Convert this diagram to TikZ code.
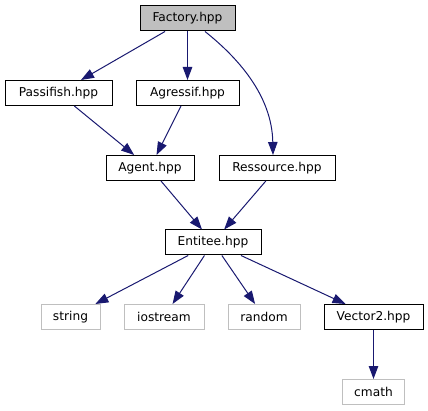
\documentclass[tikz,border=0pt]{standalone}
\usepackage{fontspec}
\setmainfont{DejaVu Sans}
\usetikzlibrary{arrows.meta,calc}
\definecolor{edgeblue}{HTML}{191970}
\definecolor{grey75}{HTML}{BFBFBF}
\begin{document}
\begin{tikzpicture}[x=1pt,y=-1pt,
  box/.style={draw=black,line width=1pt,fill=white,inner sep=0pt,minimum height=25pt,font=\fontsize{12.2}{14}\selectfont},
  extbox/.style={box,draw=grey75},
  rootbox/.style={box,fill=grey75},
  edge/.style={draw=edgeblue,line width=1pt,-{Triangle[length=13pt,width=9.5pt]}}
]
\useasboundingbox (0,0) rectangle (428,411);
\node[rootbox,minimum width=95pt] (factory) at (187.5,18.5) {Factory.hpp};
\node[box,minimum width=107pt] (passifish) at (58.5,93) {Passifish.hpp};
\node[box,minimum width=103pt] (agressif) at (187.5,93) {Agressif.hpp};
\node[box,minimum width=88pt] (agent) at (150,168) {Agent.hpp};
\node[box,minimum width=116pt] (ressource) at (277,168) {Ressource.hpp};
\node[box,minimum width=96pt] (entitee) at (213,242.5) {Entitee.hpp};
\node[extbox,minimum width=59pt] (string) at (70.5,317) {string};
\node[extbox,minimum width=80pt] (iostream) at (164,317) {iostream};
\node[extbox,minimum width=72pt] (random) at (264,317) {random};
\node[box,minimum width=99pt] (vector) at (373.5,317) {Vector2.hpp};
\node[extbox,minimum width=62pt] (cmath) at (373.5,392) {cmath};

\draw[edge] (factory) -- (passifish);
\draw[edge] (factory) -- (agressif);
\draw[edge] ($(factory.south)+(17.5,0)$) .. controls (237,57) and (272,95) .. ($(ressource.north)+(-4,0)$);
\draw[edge] (passifish) -- (agent);
\draw[edge] (agressif) -- (agent);
\draw[edge] (agent) -- (entitee);
\draw[edge] (ressource) -- (entitee);
\draw[edge] (entitee) -- (string);
\draw[edge] (entitee) -- (iostream);
\draw[edge] (entitee) -- (random);
\draw[edge] (entitee) -- (vector);
\draw[edge] (vector) -- (cmath);
\end{tikzpicture}
\end{document}
